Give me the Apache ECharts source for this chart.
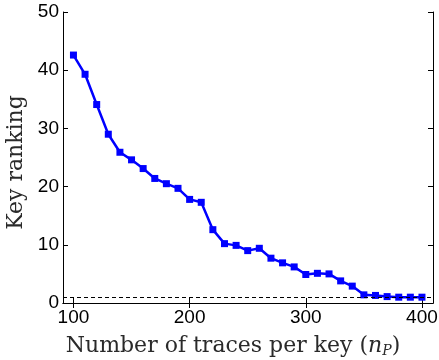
<!DOCTYPE html>
<html><head><meta charset="utf-8">
<script src="https://cdn.jsdelivr.net/npm/echarts@6/dist/echarts.min.js"></script>
<style>html,body{margin:0;padding:0;background:#fff}#c{width:439px;height:360px}</style>
</head><body><div id="c"></div>
<script>
const traces = [100,110,120,130,140,150,160,170,180,190,200,210,220,230,240,250,260,270,280,290,300,310,320,330,340,350,360,370,380,390,400];
const ranking = [42.6,39.3,34.1,29.0,25.9,24.6,23.1,21.4,20.5,19.7,17.8,17.3,12.6,10.2,9.9,9.0,9.4,7.7,6.9,6.2,4.9,5.1,5.0,3.8,2.9,1.4,1.3,1.1,1.0,1.0,1.0];
const thresholdRank = 1;
const xTicks = [100,200,300,400];
const yTicks = [0,10,20,30,40,50];

const chart = echarts.init(document.getElementById('c'));
const axisLine = {show:true, lineStyle:{color:'#000', width:1}};
const tick = (vals)=>({show:true, inside:true, length:5, lineStyle:{color:'#000', width:1}, customValues: vals});
const labelFont = {fontFamily:'Liberation Sans', fontSize:19, color:'#000'};
const titleFont = 'DejaVu Serif';
const titleColor = '#2a2a2a';
chart.setOption({
  animation:false,
  grid:{left:63, right:6, top:12, bottom:57, outerBoundsMode:'none', containLabel:false},
  xAxis:[{
    type:'value', min:91, max:409.5, position:'bottom',
    axisLine, axisTick:tick(xTicks), splitLine:{show:false},
    axisLabel:Object.assign({customValues:xTicks, margin:5}, labelFont),
    name:'{r|Number of traces per key (}{i|n}{s|P}{r|)}',
    nameLocation:'middle', nameGap:31,
    nameTextStyle:{padding:[0,30,0,0], rich:{
      r:{fontFamily:titleFont, fontSize:22, color:titleColor},
      i:{fontFamily:titleFont, fontStyle:'italic', fontSize:22, color:titleColor},
      s:{fontFamily:titleFont, fontStyle:'italic', fontSize:14, color:titleColor, padding:[10,0,0,0]}
    }}
  },{
    type:'value', min:91, max:409.5, position:'top',
    axisLine, axisTick:tick(xTicks), axisLabel:{show:false}, splitLine:{show:false}
  }],
  yAxis:[{
    type:'value', min:0, max:50, position:'left',
    axisLine, axisTick:tick(yTicks), splitLine:{show:false},
    axisLabel:Object.assign({customValues:yTicks, margin:4}, labelFont),
    name:'Key ranking', nameLocation:'middle', nameGap:33, nameRotate:90,
    nameTextStyle:{fontFamily:titleFont, fontSize:22, color:titleColor, padding:[0,10,0,0]}
  },{
    type:'value', min:0, max:50, position:'right',
    axisLine, axisTick:tick(yTicks), axisLabel:{show:false}, splitLine:{show:false}
  }],
  series:[{
    type:'line',
    data: traces.map((x,i)=>[x, ranking[i]]),
    symbol:'rect', symbolSize:7,
    lineStyle:{color:'#0000ff', width:2.5},
    itemStyle:{color:'#0000ff'},
    markLine:{
      silent:true, symbol:['none','none'], label:{show:false},
      lineStyle:{color:'#000', type:[4,3], width:1},
      data:[{yAxis:thresholdRank}]
    }
  }]
});
</script></body></html>
